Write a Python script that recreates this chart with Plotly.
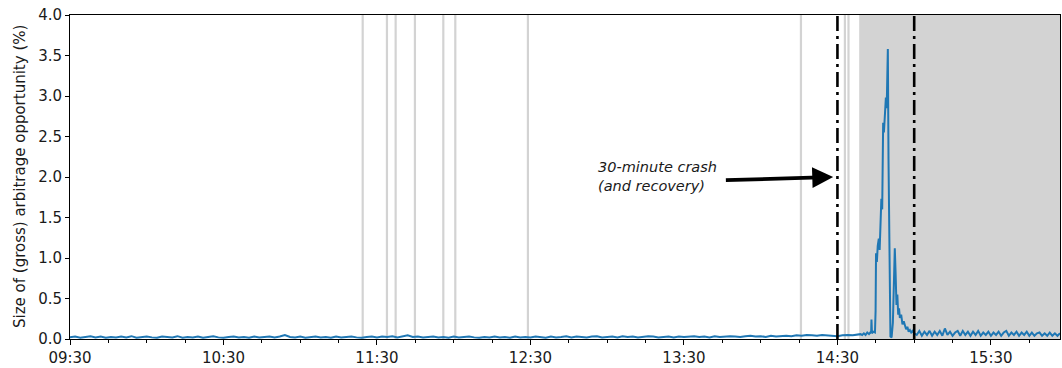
import pandas as pd
import plotly.graph_objects as go

DATE = "2010-05-06 "

# --- quiet morning / midday session, 2-minute samples from 09:30 to 14:38 ---
morning_start = "09:30"
morning_values = [
    0.02, 0.03, 0.015, 0.025, 0.035, 0.02, 0.03, 0.015, 0.025, 0.02,
    0.03, 0.02, 0.035, 0.015, 0.025, 0.03, 0.02, 0.015, 0.03, 0.025,
    0.02, 0.035, 0.015, 0.025, 0.02, 0.03, 0.015, 0.025, 0.035, 0.02,
    0.015, 0.025, 0.03, 0.02, 0.025, 0.015, 0.03, 0.02, 0.025, 0.03,
    0.02, 0.03, 0.05, 0.025, 0.02, 0.03, 0.015, 0.025, 0.03, 0.02,
    0.025, 0.015, 0.03, 0.02, 0.025, 0.03, 0.02, 0.015, 0.025, 0.03,
    0.02, 0.03, 0.025, 0.035, 0.02, 0.03, 0.045, 0.025, 0.03, 0.02,
    0.025, 0.03, 0.02, 0.025, 0.015, 0.03, 0.02, 0.025, 0.03, 0.02,
    0.015, 0.025, 0.02, 0.03, 0.02, 0.025, 0.015, 0.03, 0.02, 0.025,
    0.02, 0.03, 0.025, 0.015, 0.03, 0.02, 0.025, 0.035, 0.02, 0.03,
    0.025, 0.02, 0.03, 0.035, 0.02, 0.025, 0.03, 0.02, 0.035, 0.025,
    0.03, 0.02, 0.025, 0.035, 0.03, 0.02, 0.025, 0.03, 0.02, 0.03,
    0.025, 0.03, 0.035, 0.025, 0.03, 0.02, 0.035, 0.025, 0.03, 0.035,
    0.03, 0.025, 0.035, 0.04, 0.03, 0.035, 0.025, 0.04, 0.03, 0.035,
    0.04, 0.035, 0.045, 0.04, 0.05, 0.045, 0.04, 0.05, 0.045, 0.04,
    0.035, 0.045, 0.05, 0.045, 0.055,
]

# --- crash window, irregular samples ---
crash_times = [
    "14:39:00", "14:39:40", "14:40:20", "14:41:00", "14:41:40", "14:42:20",
    "14:42:50", "14:43:10", "14:43:18", "14:43:30", "14:44:00", "14:44:40",
    "14:44:55", "14:45:05", "14:45:25", "14:45:45", "14:46:10", "14:46:30",
    "14:46:50", "14:47:10", "14:47:30", "14:47:52", "14:48:10", "14:48:30",
    "14:48:56", "14:49:15", "14:49:42", "14:49:58", "14:50:13", "14:50:30",
    "14:50:43", "14:51:10", "14:51:40", "14:52:00", "14:52:25", "14:52:45",
    "14:53:04", "14:53:25", "14:53:45", "14:54:05", "14:54:24", "14:54:55",
    "14:55:25", "14:55:55", "14:56:20", "14:56:50", "14:57:20", "14:57:50",
    "14:58:20", "14:58:50", "14:59:20", "15:00:00",
]
crash_values = [
    0.06, 0.05, 0.07, 0.05, 0.08, 0.06,
    0.08, 0.07, 0.24, 0.07, 0.09, 0.08,
    0.35, 1.06, 0.95, 1.15, 1.24, 1.10,
    1.45, 1.73, 1.60, 2.67, 2.55, 2.70,
    2.98, 2.85, 3.58, 2.20, 1.24, 0.30,
    0.03, 0.02, 0.20, 0.60, 1.12, 0.80,
    0.42, 0.55, 0.30, 0.38, 0.26, 0.30,
    0.18, 0.22, 0.17, 0.12, 0.15, 0.09,
    0.11, 0.08, 0.10, 0.07,
]

# --- afternoon after the recovery, 1-minute samples from 15:01 to 15:57 ---
afternoon_start = "15:01"
afternoon_values = [
    0.05, 0.10, 0.04, 0.09, 0.05, 0.10, 0.04, 0.09, 0.05, 0.10,
    0.04, 0.13, 0.05, 0.09, 0.04, 0.08, 0.10, 0.04, 0.10, 0.05,
    0.09, 0.04, 0.09, 0.05, 0.10, 0.04, 0.08, 0.05, 0.09, 0.04,
    0.08, 0.05, 0.09, 0.04, 0.08, 0.10, 0.04, 0.08, 0.05, 0.09,
    0.04, 0.08, 0.05, 0.09, 0.04, 0.08, 0.04, 0.07, 0.08, 0.04,
    0.07, 0.04, 0.08, 0.04, 0.07, 0.04, 0.07,
]

# vertical marker lines
light_lines = ["11:24:25", "11:33:54", "11:37:18", "11:44:50", "11:55:56",
               "12:00:37", "12:29:00", "14:15:44", "14:32:55", "14:34:19"]
crash_bounds = ["14:30", "15:00"]
shade_start = "14:38:30"

x_range = ["09:30", "15:57"]
tick_labels = ["09:30", "10:30", "11:30", "12:30", "13:30", "14:30", "15:30"]
y_ticks = [0.0, 0.5, 1.0, 1.5, 2.0, 2.5, 3.0, 3.5, 4.0]

annot_lines = ["30-minute crash", "(and recovery)"]
annot_pos = ("12:55:48", 2.01)
arrow_tip = ("14:28:20", 2.0)
arrow_tail = ("13:45:48", 1.96)

# --- assemble series ---
t_morning = pd.date_range(DATE + morning_start, periods=len(morning_values), freq="2min")
t_crash = pd.to_datetime([DATE + t for t in crash_times])
t_after = pd.date_range(DATE + afternoon_start, periods=len(afternoon_values), freq="1min")
times = list(t_morning) + list(t_crash) + list(t_after)
values = morning_values + crash_values + afternoon_values

FONT = "DejaVu Sans"
TXT = "#1a1a1a"
fig = go.Figure()
fig.add_trace(go.Scatter(x=times, y=values, mode="lines",
                         line=dict(color="#1f77b4", width=2), hoverinfo="skip"))

fig.add_vrect(x0=DATE + shade_start, x1=DATE + "16:00", fillcolor="#d3d3d3",
              opacity=1, line_width=0, layer="below")
for t in light_lines:
    fig.add_shape(type="line", xref="x", yref="paper", x0=DATE + t, x1=DATE + t,
                  y0=0, y1=1, line=dict(color="#d3d3d3", width=2.2), layer="below")
for t in crash_bounds:
    fig.add_shape(type="line", xref="x", yref="paper", x0=DATE + t, x1=DATE + t,
                  y0=0, y1=1, line=dict(color="black", width=2.6,
                                        dash="15px,5px,3px,5px"), layer="above")

fig.add_annotation(x=DATE + arrow_tip[0], y=arrow_tip[1], ax=DATE + arrow_tail[0],
                   ay=arrow_tail[1], axref="x", ayref="y", xref="x", yref="y",
                   text="", showarrow=True, arrowhead=2, arrowsize=1.1,
                   arrowwidth=3.8, arrowcolor="black", standoff=0, startstandoff=0)
fig.add_annotation(x=DATE + annot_pos[0], y=annot_pos[1], xref="x", yref="y",
                   text="<br>".join("<i>%s</i>" % s for s in annot_lines),
                   showarrow=False, xanchor="left", yanchor="middle", align="left",
                   font=dict(family=FONT, size=14.5, color=TXT))
fig.add_annotation(x=-0.0505, y=0.5, xref="paper", yref="paper",
                   text="Size of (gross) arbitrage opportunity (%)", textangle=-90,
                   showarrow=False, xanchor="center", yanchor="middle",
                   font=dict(family=FONT, size=15, color=TXT))

fig.update_layout(
    width=1062, height=368,
    margin=dict(l=70, r=1, t=15, b=27),
    paper_bgcolor="white", plot_bgcolor="white",
    showlegend=False,
    font=dict(family=FONT, size=15, color=TXT),
    xaxis=dict(
        range=[DATE + x_range[0], DATE + x_range[1]],
        tickvals=[DATE + t for t in tick_labels], ticktext=tick_labels,
        ticks="outside", ticklen=5, tickwidth=1, tickcolor="black",
        showline=True, linecolor="black", linewidth=1, mirror=True,
        showgrid=False, zeroline=False,
        minor=dict(dtick=15 * 60 * 1000, tick0=DATE + "09:30", ticks="outside",
                   ticklen=3, tickcolor="black", showgrid=False),
        tickfont=dict(family=FONT, size=15),
    ),
    yaxis=dict(
        range=[0, 4], tickvals=y_ticks, ticktext=["%.1f" % v for v in y_ticks],
        ticks="outside", ticklen=4, tickwidth=1, tickcolor="black",
        showline=True, linecolor="black", linewidth=1, mirror=True,
        showgrid=False, zeroline=False, ticklabeloverflow="allow",
        tickfont=dict(family=FONT, size=15),
    ),
)

# remove the browser's default 8px page margin so the figure fills the window
fig.write_html(
    "out.html",
    config={"displayModeBar": False, "staticPlot": True},
    post_script="document.body.style.margin='0';document.body.style.overflow='hidden';",
)
